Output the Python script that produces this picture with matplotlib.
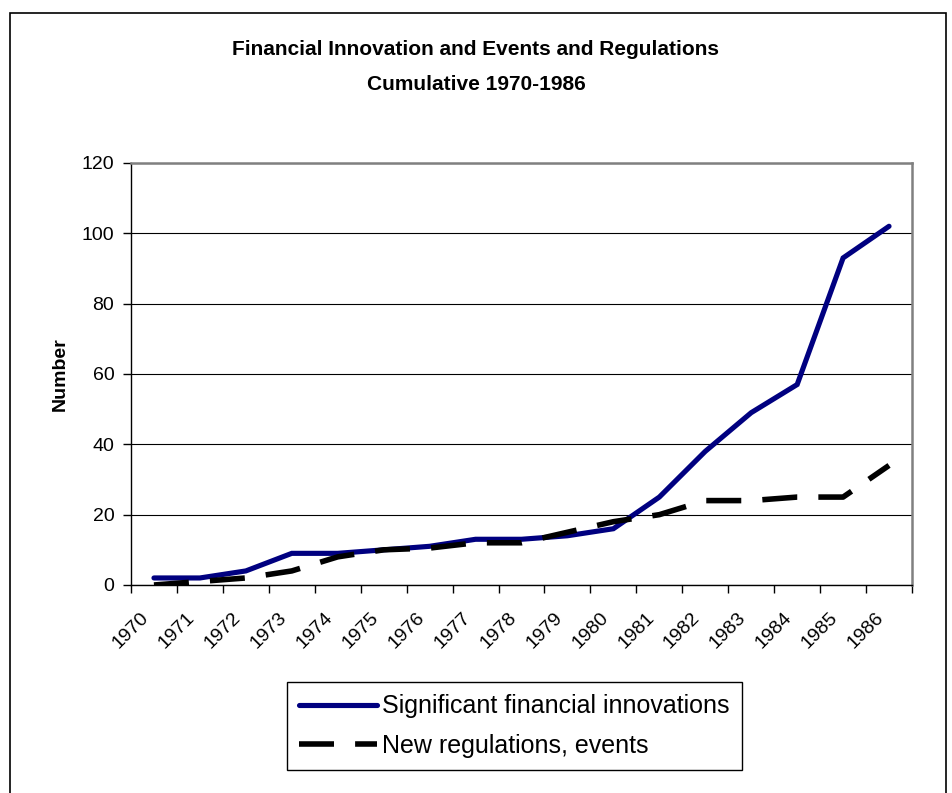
import matplotlib
import matplotlib.pyplot as plt
from matplotlib.patches import Rectangle

years = ['1970', '1971', '1972', '1973', '1974', '1975', '1976', '1977', '1978',
         '1979', '1980', '1981', '1982', '1983', '1984', '1985', '1986']
innovations = [2, 2, 4, 9, 9, 10, 11, 13, 13, 14, 16, 25, 38, 49, 57, 93, 102]
regulations = [0, 1, 2, 4, 8, 10, 10.5, 12, 12, 15, 18, 20, 24, 24, 25, 25, 34]
y_ticks = [0, 20, 40, 60, 80, 100, 120]


if __name__ == '__main__':
    matplotlib.rc('font', family=['Liberation Sans', 'DejaVu Sans'], size=14)

    fig = plt.figure(figsize=(9.52, 7.93), dpi=100)
    ax = fig.add_axes([0.1376, 0.2623, 0.958 - 0.1376, 0.7945 - 0.2623])

    # outer chart frame
    fig.patches.append(Rectangle((10 / 952, -0.1), 936 / 952, 1.1 - 13 / 793,
                                 transform=fig.transFigure, fill=False,
                                 edgecolor='black', linewidth=1.2))

    x = list(range(len(years)))
    ax.plot(x, innovations, color='#000080', linewidth=3.7,
            solid_capstyle='round', solid_joinstyle='miter',
            label='Significant financial innovations', zorder=3)
    ax.plot(x, regulations, color='black', linewidth=4.0,
            linestyle=(0, (6.3, 3.8)), dash_capstyle='butt',
            label='New regulations, events', zorder=3)

    ax.set_xlim(-0.5, len(years) - 0.5)
    ax.set_ylim(0, 120)
    ax.set_yticks(y_ticks)
    ax.yaxis.grid(True, color='black', linewidth=0.8)
    ax.set_axisbelow(True)

    # labels sit a little left of the category centre, like Excel
    ax.set_xticks([i - 0.17 for i in x])
    ax.set_xticklabels(years, rotation=45, ha='right', va='center',
                       rotation_mode='anchor')
    ax.set_xticks([i - 0.5 for i in range(len(years) + 1)], minor=True)
    ax.tick_params(axis='x', which='major', length=0, pad=22)
    ax.tick_params(axis='x', which='minor', length=6, width=1, direction='out')
    ax.tick_params(axis='y', length=6, width=1, direction='out', pad=6)

    for side in ['top', 'right']:
        ax.spines[side].set_color('#808080')
        ax.spines[side].set_linewidth(1.8)
    for side in ['left', 'bottom']:
        ax.spines[side].set_color('black')
        ax.spines[side].set_linewidth(1.0)

    ax.set_ylabel('Number', fontweight='bold', fontsize=14, labelpad=9)

    fig.text(0.500, 0.937, 'Financial Innovation and Events and Regulations',
             ha='center', va='center', fontweight='bold', fontsize=15)
    fig.text(0.500, 0.894, 'Cumulative 1970-1986',
             ha='center', va='center', fontweight='bold', fontsize=15)

    leg = ax.legend(loc='center', bbox_to_anchor=(514 / 952, 1 - 726 / 793),
                    bbox_transform=fig.transFigure, fontsize=18,
                    handlelength=3.1, handletextpad=0.2, labelspacing=0.6,
                    borderpad=0.5, fancybox=False, framealpha=1)
    leg.get_frame().set_edgecolor('black')
    leg.get_frame().set_linewidth(1.0)

    fig.savefig('out.png', dpi=100)
